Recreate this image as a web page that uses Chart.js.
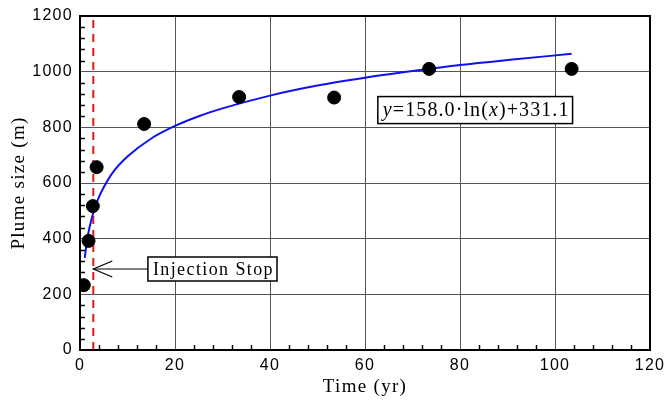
<!DOCTYPE html>
<html>
<head>
<meta charset="utf-8">
<script src="https://cdn.jsdelivr.net/npm/chart.js@4"></script>
<style>
html,body{margin:0;padding:0;background:#fff;}
#wrap{width:665px;height:402px;position:relative;}
</style>
</head>
<body>
<div id="wrap"><canvas id="c" width="665" height="402"></canvas></div>
<script>
// Observed plume size (m) vs time (yr)
const obsTime = [0.8, 1.8, 2.7, 3.5, 13.5, 33.5, 53.5, 73.5, 103.5];
const obsSize = [233, 392, 517, 657, 812, 909, 907, 1010, 1010];
// Fitted curve
const fitTime = [1, 1.5, 2, 3, 4, 5, 7, 10, 15, 20, 25, 30, 40, 50, 60, 70, 80, 90, 103.5];
const fitSize = [331, 395, 440, 505, 550, 585, 640, 695, 760, 805, 840, 868, 914, 950, 978, 1002, 1024, 1042, 1064];
// Injection stop marker
const injectionTime = [2.8, 2.8];
const injectionSpan = [0, 1200];
const injectionLabel = "Injection Stop";
const injectionLabelAnchor = [14.3, 291];
const eqParts = [["y", true], ["=158.0·ln(", false], ["x", true], [")+331.1", false]];
const eqAnchor = [62.7, 862];
const xTicks = [0, 20, 40, 60, 80, 100, 120];
const yTicks = [0, 200, 400, 600, 800, 1000, 1200];

const SERIF = "'Liberation Serif','Times New Roman',serif";
const SANS = "'Liberation Sans',Arial,sans-serif";

const spacing = {
  id: 'spacing',
  beforeDraw(chart) { chart.ctx.letterSpacing = '1.3px'; },
  beforeDatasetsDraw(chart) { chart.ctx.letterSpacing = '0px'; }
};

const overlay = {
  id: 'overlay',
  afterDatasetsDraw(chart) {
    const ctx = chart.ctx, a = chart.chartArea;
    const xs = chart.scales.x, ys = chart.scales.y;
    ctx.save();
    ctx.letterSpacing = '0px';
    // minor ticks
    ctx.strokeStyle = '#000'; ctx.lineWidth = 1.5;
    for (let v = 0; v <= 120; v += 4) {
      if (v % 20 === 0) continue;
      const px = Math.round(xs.getPixelForValue(v)) + 0.5;
      ctx.beginPath(); ctx.moveTo(px, a.bottom); ctx.lineTo(px, a.bottom - 5); ctx.stroke();
    }
    for (let v = 0; v <= 1200; v += 40) {
      if (v % 200 === 0) continue;
      const py = Math.round(ys.getPixelForValue(v)) + 0.5;
      ctx.beginPath(); ctx.moveTo(a.left, py); ctx.lineTo(a.left + 5, py); ctx.stroke();
    }
    // border
    ctx.strokeStyle = '#000'; ctx.lineWidth = 2;
    ctx.strokeRect(a.left, a.top, a.right - a.left, a.bottom - a.top);

    // Injection stop box + arrow
    ctx.letterSpacing = '1.4px';
    ctx.font = "18px " + SERIF;
    ctx.textBaseline = 'middle';
    const bx = xs.getPixelForValue(injectionLabelAnchor[0]);
    const by = ys.getPixelForValue(injectionLabelAnchor[1]);
    const tw = ctx.measureText(injectionLabel).width;
    const bw = tw + 8, bh = 24;
    ctx.fillStyle = '#fff';
    ctx.fillRect(bx, by - bh / 2, bw, bh);
    ctx.strokeStyle = '#000'; ctx.lineWidth = 1.5;
    ctx.strokeRect(bx, by - bh / 2, bw, bh);
    ctx.fillStyle = '#000';
    ctx.textAlign = 'left';
    ctx.fillText(injectionLabel, bx + 5, by + 1);
    const tipX = xs.getPixelForValue(injectionTime[0]);
    ctx.lineWidth = 1.2;
    ctx.beginPath(); ctx.moveTo(bx, by); ctx.lineTo(tipX, by); ctx.stroke();
    ctx.beginPath(); ctx.moveTo(tipX + 19, by - 8); ctx.lineTo(tipX, by); ctx.lineTo(tipX + 19, by + 8); ctx.stroke();

    // Equation box
    ctx.letterSpacing = '1.1px';
    const ex = xs.getPixelForValue(eqAnchor[0]);
    const ey = ys.getPixelForValue(eqAnchor[1]);
    let total = 0;
    const fonts = eqParts.map(p => (p[1] ? "italic " : "") + "20px " + SERIF);
    eqParts.forEach((p, i) => { ctx.font = fonts[i]; total += ctx.measureText(p[0]).width; });
    const ew = total + 8, eh = 27;
    ctx.fillStyle = '#fff';
    ctx.fillRect(ex, ey - eh / 2, ew, eh);
    ctx.strokeStyle = '#000'; ctx.lineWidth = 1.5;
    ctx.strokeRect(ex, ey - eh / 2, ew, eh);
    ctx.fillStyle = '#000';
    let cx = ex + 5;
    eqParts.forEach((p, i) => { ctx.font = fonts[i]; ctx.fillText(p[0], cx, ey + 1); cx += ctx.measureText(p[0]).width; });
    ctx.restore();
  }
};

new Chart(document.getElementById('c'), {
  type: 'scatter',
  data: {
    datasets: [
      {
        label: 'Observed',
        data: obsTime.map((t, i) => ({x: t, y: obsSize[i]})),
        pointRadius: 6.5, pointBackgroundColor: '#000', pointBorderColor: '#000',
        showLine: false, order: 0
      },
      {
        label: 'Fit',
        data: fitTime.map((t, i) => ({x: t, y: fitSize[i]})),
        showLine: true, pointRadius: 0, borderColor: '#1010f0', borderWidth: 2,
        cubicInterpolationMode: 'monotone', order: 1
      },
      {
        label: 'Injection stop',
        data: injectionTime.map((t, i) => ({x: t, y: injectionSpan[i]})),
        showLine: true, pointRadius: 0, borderColor: '#e01818', borderWidth: 2,
        borderDash: [8, 6], order: 2
      }
    ]
  },
  options: {
    responsive: false,
    animation: false,
    layout: {padding: {left: 0, right: 15, top: 16, bottom: 0}},
    plugins: {legend: {display: false}, tooltip: {enabled: false}},
    scales: {
      x: {
        type: 'linear', min: 0, max: 120,
        afterBuildTicks: s => { s.ticks = xTicks.map(v => ({value: v})); },
        afterFit: s => { s.height = 52; s.paddingLeft = 0; s.paddingRight = 0; },
        grid: {color: '#555', lineWidth: 1, drawTicks: false},
        border: {display: false},
        ticks: {color: '#000', font: {family: SANS, size: 16}, padding: 6, maxRotation: 0,
                callback: v => String(v)},
        title: {display: true, text: 'Time (yr)', color: '#000', font: {family: SERIF, size: 19}, padding: {top: 0, bottom: 4}}
      },
      y: {
        type: 'linear', min: 0, max: 1200,
        afterBuildTicks: s => { s.ticks = yTicks.map(v => ({value: v})); },
        afterFit: s => { s.width = 80; s.paddingTop = 0; s.paddingBottom = 0; },
        grid: {color: '#555', lineWidth: 1, drawTicks: false},
        border: {display: false},
        ticks: {color: '#000', font: {family: SANS, size: 16}, padding: 7,
                callback: v => String(v)},
        title: {display: true, text: 'Plume size (m)', color: '#000', font: {family: SERIF, size: 19}, padding: {top: 8, bottom: 0}}
      }
    }
  },
  plugins: [spacing, overlay]
});
</script>
</body>
</html>
